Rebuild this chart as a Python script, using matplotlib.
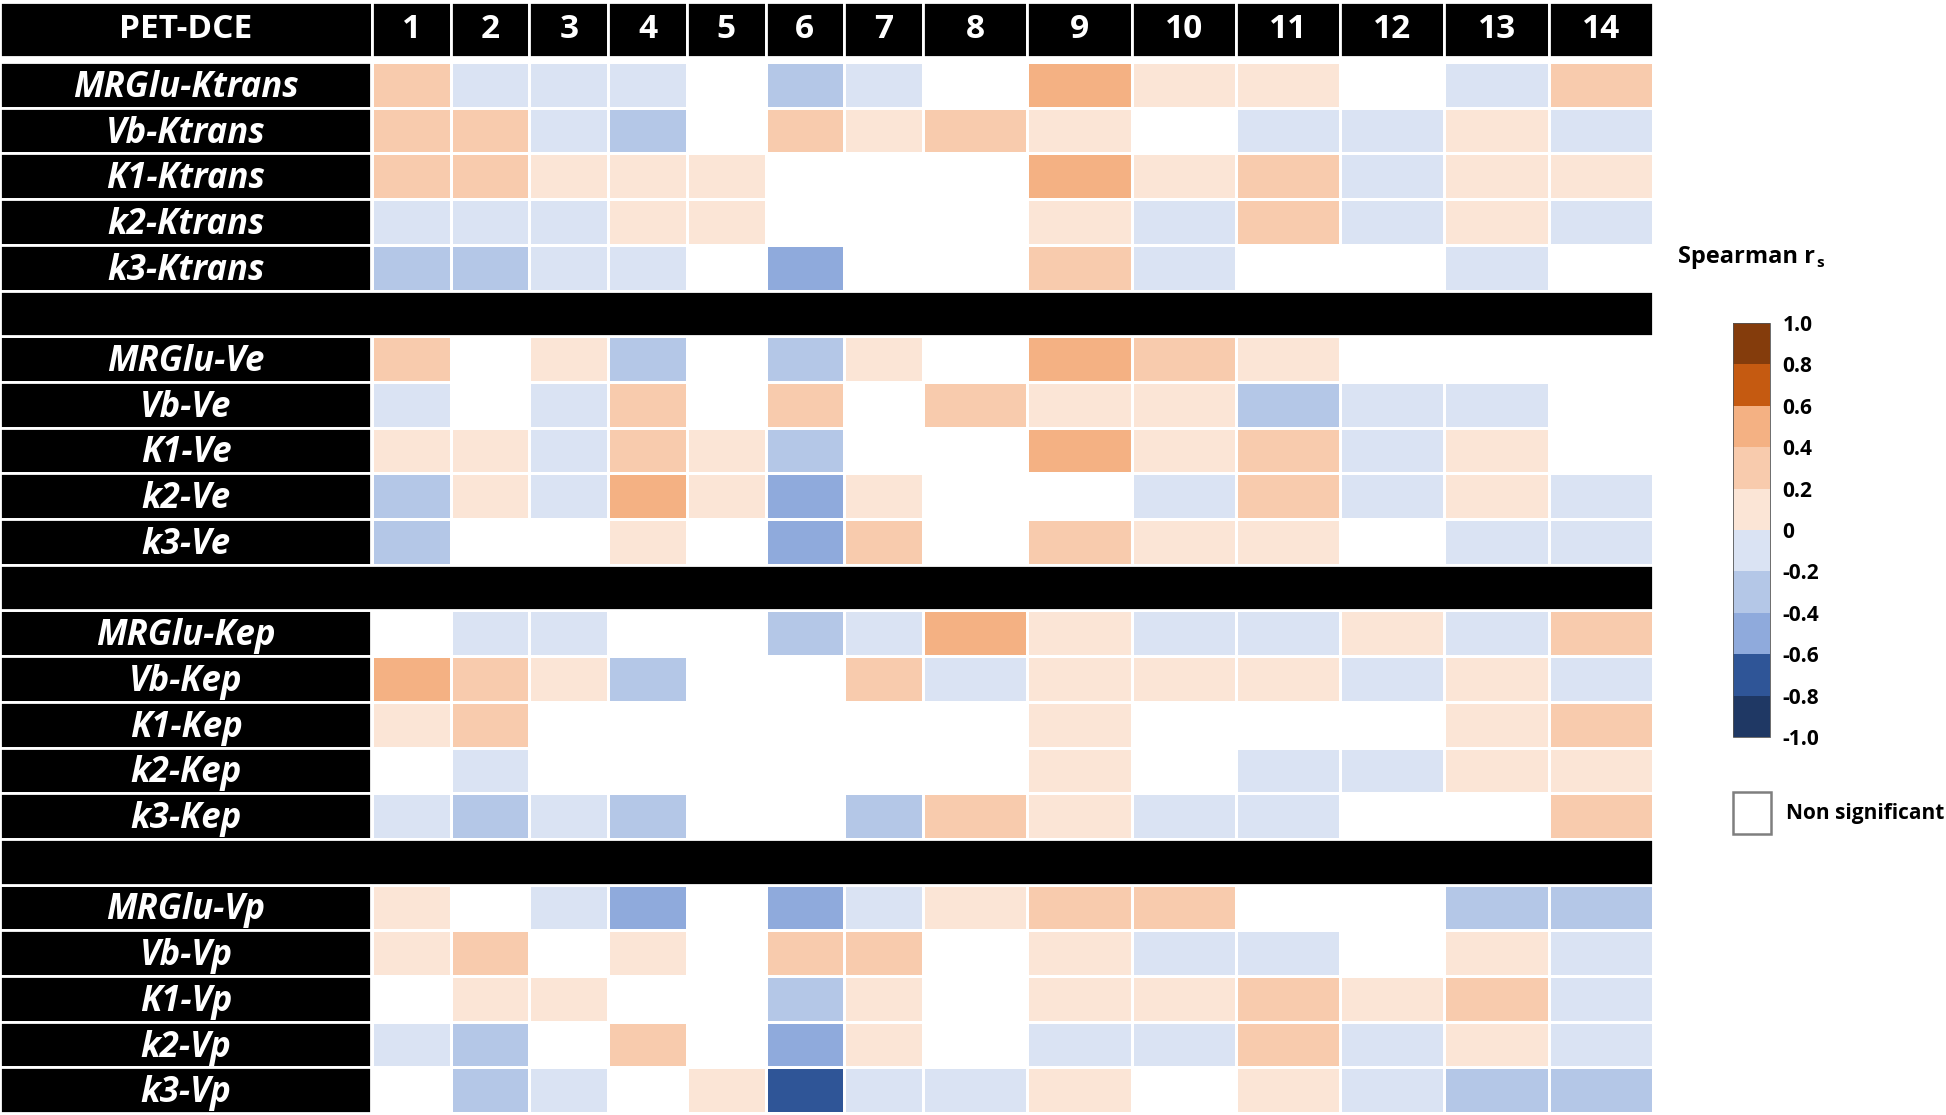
import numpy as np
import matplotlib
matplotlib.use('Agg')
import matplotlib.pyplot as plt
from matplotlib.colors import ListedColormap, BoundaryNorm
from matplotlib.cm import ScalarMappable
from matplotlib.patches import Rectangle

nan = np.nan

# ---------------- data ----------------
corner_label = 'PET-DCE'
columns = [str(i) for i in range(1, 15)]
params = ['MRGlu', 'Vb', 'K1', 'k2', 'k3']
groups = ['Ktrans', 'Ve', 'Kep', 'Vp']

# Spearman r_s (representative value of the colour class); nan = non significant
ktrans = [
    [0.3, -0.1, -0.1, -0.1, nan, -0.3, -0.1, nan, 0.5, 0.1, 0.1, nan, -0.1, 0.3],
    [0.3, 0.3, -0.1, -0.3, nan, 0.3, 0.1, 0.3, 0.1, nan, -0.1, -0.1, 0.1, -0.1],
    [0.3, 0.3, 0.1, 0.1, 0.1, nan, nan, nan, 0.5, 0.1, 0.3, -0.1, 0.1, 0.1],
    [-0.1, -0.1, -0.1, 0.1, 0.1, nan, nan, nan, 0.1, -0.1, 0.3, -0.1, 0.1, -0.1],
    [-0.3, -0.3, -0.1, -0.1, nan, -0.5, nan, nan, 0.3, -0.1, nan, nan, -0.1, nan],
]
ve = [
    [0.3, nan, 0.1, -0.3, nan, -0.3, 0.1, nan, 0.5, 0.3, 0.1, nan, nan, nan],
    [-0.1, nan, -0.1, 0.3, nan, 0.3, nan, 0.3, 0.1, 0.1, -0.3, -0.1, -0.1, nan],
    [0.1, 0.1, -0.1, 0.3, 0.1, -0.3, nan, nan, 0.5, 0.1, 0.3, -0.1, 0.1, nan],
    [-0.3, 0.1, -0.1, 0.5, 0.1, -0.5, 0.1, nan, nan, -0.1, 0.3, -0.1, 0.1, -0.1],
    [-0.3, nan, nan, 0.1, nan, -0.5, 0.3, nan, 0.3, 0.1, 0.1, nan, -0.1, -0.1],
]
kep = [
    [nan, -0.1, -0.1, nan, nan, -0.3, -0.1, 0.5, 0.1, -0.1, -0.1, 0.1, -0.1, 0.3],
    [0.5, 0.3, 0.1, -0.3, nan, nan, 0.3, -0.1, 0.1, 0.1, 0.1, -0.1, 0.1, -0.1],
    [0.1, 0.3, nan, nan, nan, nan, nan, nan, 0.1, nan, nan, nan, 0.1, 0.3],
    [nan, -0.1, nan, nan, nan, nan, nan, nan, 0.1, nan, -0.1, -0.1, 0.1, 0.1],
    [-0.1, -0.3, -0.1, -0.3, nan, nan, -0.3, 0.3, 0.1, -0.1, -0.1, nan, nan, 0.3],
]
vp = [
    [0.1, nan, -0.1, -0.5, nan, -0.5, -0.1, 0.1, 0.3, 0.3, nan, nan, -0.3, -0.3],
    [0.1, 0.3, nan, 0.1, nan, 0.3, 0.3, nan, 0.1, -0.1, -0.1, nan, 0.1, -0.1],
    [nan, 0.1, 0.1, nan, nan, -0.3, 0.1, nan, 0.1, 0.1, 0.3, 0.1, 0.3, -0.1],
    [-0.1, -0.3, nan, 0.3, nan, -0.5, 0.1, nan, -0.1, -0.1, 0.3, -0.1, 0.1, -0.1],
    [nan, -0.3, -0.1, nan, 0.1, -0.7, -0.1, -0.1, 0.1, nan, 0.1, -0.1, -0.3, -0.3],
]
group_values = [ktrans, ve, kep, vp]

bounds = [-1.0, -0.8, -0.6, -0.4, -0.2, 0.0, 0.2, 0.4, 0.6, 0.8, 1.0]
bound_labels = ['-1.0', '-0.8', '-0.6', '-0.4', '-0.2', '0', '0.2', '0.4', '0.6', '0.8', '1.0']
class_colors = ['#1F3864', '#2F5597', '#8FAADC', '#B4C7E7', '#DAE3F3',
                '#FBE5D6', '#F8CBAD', '#F4B183', '#C55A11', '#843C0C']
legend_title = 'Spearman r'
legend_sub = 's'
ns_label = 'Non significant'

# ---------------- layout ----------------
FAM = ['Open Sans', 'DejaVu Sans']
plt.rcParams['font.family'] = FAM

W, H = 1946, 1115
fig = plt.figure(figsize=(W / 100, H / 100), dpi=100)
ax = fig.add_axes([0, 0, 1, 1])
ax.set_xlim(0, W)
ax.set_ylim(H, 0)
ax.axis('off')

label_w = 372
col_w = [78.7] * 7 + [104.3] * 7
x_edges = label_w + np.concatenate([[0], np.cumsum(col_w)])
table_right = x_edges[-1]

row_top = 62.0
row_h = 45.7
n_rows = len(groups) * (len(params) + 1) - 1
y_edges = row_top + row_h * np.arange(n_rows + 1)

# assemble matrix with separator rows
mat = np.full((n_rows, len(columns)), nan)
row_labels = [None] * n_rows
sep_rows = []
r = 0
for gi, (g, vals) in enumerate(zip(groups, group_values)):
    for pi, p in enumerate(params):
        mat[r] = vals[pi]
        row_labels[r] = f'{p}-{g}'
        r += 1
    if gi < len(groups) - 1:
        sep_rows.append(r)
        r += 1

cmap = ListedColormap(class_colors)
norm = BoundaryNorm(bounds, cmap.N)

ax.pcolormesh(x_edges, y_edges, np.ma.masked_invalid(mat), cmap=cmap, norm=norm,
              edgecolors='white', linewidth=1.8)

# header row
hdr_top, hdr_bot = 2, 57
hdr_x = np.concatenate([[0], x_edges])
hdr_w = np.diff(hdr_x)
ax.bar(hdr_x[:-1], hdr_bot - hdr_top, width=hdr_w, bottom=hdr_top, align='edge',
       color='black', edgecolor='white', linewidth=2.0)
hdr_text = [corner_label] + columns
for xl, wd, t in zip(hdr_x[:-1], hdr_w, hdr_text):
    ax.text(xl + wd / 2, (hdr_top + hdr_bot) / 2, t, color='white', ha='center', va='center',
            fontsize=24, fontweight='bold', family=FAM)

# label cells
y_centers = (y_edges[:-1] + y_edges[1:]) / 2
data_idx = [i for i in range(n_rows) if row_labels[i] is not None]
ax.barh(y_centers[data_idx], label_w - 1, left=0, height=row_h, color='black',
        edgecolor='white', linewidth=2.0)
for i in data_idx:
    ax.text(label_w / 2, y_centers[i] + 3, row_labels[i], color='white', ha='center', va='center',
            fontsize=25, fontweight='bold', fontstyle='italic', family=FAM)

# separator bars
ax.barh(y_centers[sep_rows], table_right, left=0, height=row_h, color='black',
        edgecolor='white', linewidth=2.0)

# legend title
t = ax.text(1678, 257, legend_title, ha='left', va='center', fontsize=17,
            fontweight='bold', color='black', family=FAM)
ax.annotate(legend_sub, xy=(1, 0), xycoords=t, xytext=(1, -1), textcoords='offset points',
            ha='left', va='bottom', fontsize=11, fontweight='bold', color='black', family=FAM)

# colorbar
cb_top, cb_bot = 323, 737
cax = fig.add_axes([1733 / W, 1 - cb_bot / H, 37 / W, (cb_bot - cb_top) / H])
cb = fig.colorbar(ScalarMappable(norm=norm, cmap=cmap), cax=cax, ticks=bounds,
                  spacing='proportional')
cb.ax.set_yticklabels(bound_labels)
cb.ax.tick_params(length=0, pad=9, labelsize=15)
for lab in cb.ax.get_yticklabels():
    lab.set_fontweight('bold')
    lab.set_family(FAM)
cb.outline.set_linewidth(0.6)
cb.outline.set_edgecolor('#555555')

# non significant box
ax.add_patch(Rectangle((1733, 792), 38, 42, facecolor='white', edgecolor='#7f7f7f', linewidth=1.8))
ax.text(1786, 813, ns_label, ha='left', va='center', fontsize=15, fontweight='bold',
        color='black', family=FAM)

fig.savefig('out.png', dpi=100)
